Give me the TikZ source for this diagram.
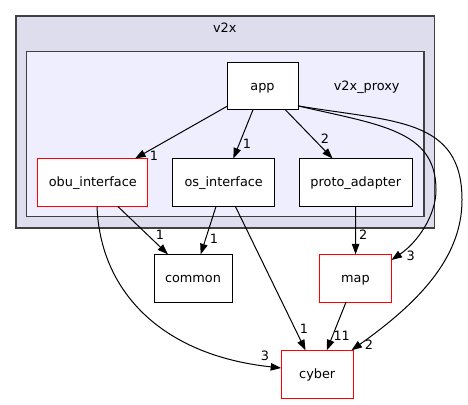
\documentclass[tikz,border=0pt]{standalone}
\usepackage{fontspec}
\setsansfont{DejaVu Sans}
\usetikzlibrary{arrows.meta}
\usepackage{xcolor}
\definecolor{outerfill}{RGB}{221, 221, 238}
\definecolor{innerfill}{RGB}{238, 238, 255}
\definecolor{clusterline}{RGB}{64, 64, 64}
\definecolor{dirred}{RGB}{255, 0, 0}
\definecolor{textdark}{RGB}{0, 0, 0}

\begin{document}
\begin{tikzpicture}[
    x=1bp, y=1bp,
    dir/.style={rectangle, draw=textdark, fill=white, line width=1bp, minimum height=48bp, inner sep=0pt, outer sep=0pt, text height=11bp, text depth=3bp, font=\sffamily\fontsize{12.9}{15}\selectfont},
    reddir/.style={dir, draw=dirred},
    cluster/.style={rectangle, draw=clusterline, line width=1.3bp, inner sep=0pt, outer sep=0pt},
    title/.style={text height=11bp, text depth=3bp, inner sep=0pt, font=\sffamily\fontsize{12.9}{15}\selectfont},
    count/.style={inner sep=0pt, font=\sffamily\fontsize{12.9}{15}\selectfont},
    arrow/.style={-{Triangle[length=10.5bp, width=7.5bp]}, line width=1bp, color=textdark},
]
\useasboundingbox (0, 0) rectangle (468, 404);

% Clusters
\node[cluster, fill=outerfill, minimum width=418.7bp, minimum height=212bp] (v2x) at (225.35, 282) {};
\node[title] (v2xtitle) at (224.7, 375.7) {v2x};
\node[cluster, fill=innerfill, minimum width=397.3bp, minimum height=165bp] (proxy) at (225.35, 269.8) {};
\node[title] (proxytitle) at (366.7, 317.3) {v2x\_proxy};

% Directories inside v2x_proxy
\node[dir, minimum width=71bp, minimum height=47bp] (app) at (262.5, 317.8) {app};
\node[reddir, minimum width=110bp] (obu) at (92.8, 221.5) {obu\_interface};
\node[dir, minimum width=102bp] (os) at (223.7, 221.5) {os\_interface};
\node[dir, minimum width=113bp] (proto) at (355.8, 221.5) {proto\_adapter};

% Directories outside
\node[dir, minimum width=78bp] (common) at (193, 125.7) {common};
\node[reddir, minimum width=72bp] (map) at (355.5, 125.7) {map};
\node[reddir, minimum width=72bp] (cyber) at (317.2, 29.7) {cyber};

% Dependencies from app
\draw[arrow] (app) -- (obu) node[count] at (154, 248) {1};
\draw[arrow] (app) -- (os) node[count] at (247, 260) {1};
\draw[arrow] (app) -- (proto) node[count] at (325, 265.7) {2};
\draw[arrow] (app.-29) .. controls (380, 279) and (436, 274) .. (436, 214)
    .. controls (436, 189) and (418, 162) .. (map.27) node[count] at (410.7, 148) {3};
\draw[arrow] (app.-29) .. controls (395, 282) and (462, 286) .. (462, 204)
    .. controls (462, 144) and (415, 99) .. (cyber.35) node[count] at (369, 59) {2};

% Dependencies from the other directories
\draw[arrow] (obu) -- (common) node[count] at (160, 169.3) {1};
\draw[arrow] (obu.-80) .. controls (100, 114) and (160, 49) .. (cyber.170) node[count] at (265, 48.3) {3};
\draw[arrow] (os) -- (common) node[count] at (214, 165) {1};
\draw[arrow] (os) -- (cyber) node[count] at (304, 74.7) {1};
\draw[arrow] (proto) -- (map) node[count] at (363.3, 169.7) {2};
\draw[arrow] (map) -- (cyber) node[count] at (341.7, 68.3) {11};

\end{tikzpicture}
\end{document}
